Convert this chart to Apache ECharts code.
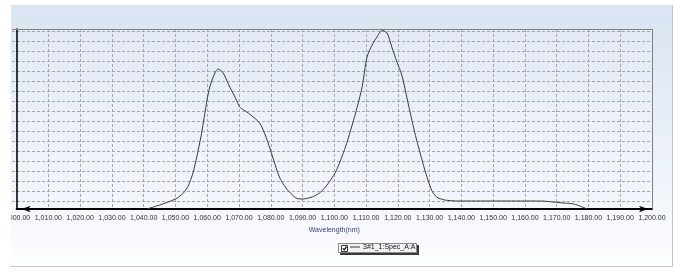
<!DOCTYPE html>
<html>
<head>
<meta charset="utf-8">
<script src="https://cdn.jsdelivr.net/npm/echarts@6/dist/echarts.min.js"></script>
<style>
html,body{margin:0;padding:0;background:#fff;}
#main{width:681px;height:279px;}
</style>
</head>
<body>
<div id="main"></div>
<script>
// Wavelength (nm) and signal values
const wavelengths = [1041, 1045, 1050, 1052.5, 1054, 1055.5, 1056.7, 1058, 1058.75, 1060, 1060.8, 1062.4, 1063.4, 1065, 1067.1, 1069.2, 1070.2, 1071.5, 1073.3, 1076.5, 1078.5, 1080.6, 1082.7, 1084.8, 1087.9, 1090, 1093, 1095.2, 1097.3, 1100.4, 1103.5, 1106.7, 1108.75, 1110.3, 1111.9, 1113.4, 1115, 1116.6, 1118.1, 1119.7, 1121.25, 1122.8, 1124.4, 1125.9, 1126.5, 1128.5, 1130.6, 1132.2, 1134.8, 1139, 1146, 1157, 1165, 1171, 1175.4, 1179.6];
const signal = [0, 0.04, 0.10, 0.16, 0.23, 0.36, 0.52, 0.72, 0.86, 1.10, 1.22, 1.36, 1.40, 1.36, 1.22, 1.09, 1.02, 0.99, 0.95, 0.86, 0.72, 0.52, 0.32, 0.21, 0.11, 0.10, 0.12, 0.157, 0.223, 0.37, 0.62, 0.96, 1.22, 1.52, 1.64, 1.72, 1.785, 1.76, 1.62, 1.47, 1.34, 1.12, 0.89, 0.69, 0.62, 0.39, 0.19, 0.12, 0.09, 0.08, 0.08, 0.08, 0.08, 0.063, 0.05, 0];
const seriesName = '3#1_1:Spec_A:A';
const xName = 'Wavelength(nm)';

const chart = echarts.init(document.getElementById('main'), null, {renderer: 'canvas'});
const fontFam = '"Liberation Sans", Arial, sans-serif';

function fmt(v) {
  return v.toLocaleString('en-US', {minimumFractionDigits: 2, maximumFractionDigits: 2});
}

const option = {
  backgroundColor: '#ffffff',
  animation: false,
  graphic: [
    { type: 'rect', z: -10, silent: true,
      shape: {x: 11, y: 5, width: 661, height: 261},
      style: {fill: new echarts.graphic.LinearGradient(0, 0, 0, 1, [
        {offset: 0, color: '#dae4f2'}, {offset: 0.1, color: '#dde6f3'}, {offset: 0.9, color: '#f8fafd'}, {offset: 1, color: '#fdfeff'}])}},
    { type: 'line', z: -9, silent: true, shape: {x1: 11, y1: 266.5, x2: 673, y2: 266.5}, style: {stroke: '#c4c4c4', lineWidth: 1}},
    { type: 'line', z: -9, silent: true, shape: {x1: 672.5, y1: 5, x2: 672.5, y2: 266}, style: {stroke: '#c4c4c4', lineWidth: 1}},
    { type: 'rect', z: -8, silent: true,
      shape: {x: 12, y: 29, width: 640, height: 180},
      style: {fill: new echarts.graphic.LinearGradient(0, 0, 0, 1, [
        {offset: 0, color: '#e3eaf6'}, {offset: 1, color: '#f3f6fb'}])}},
    { type: 'line', z: 1, silent: true, shape: {x1: 12, y1: 29.5, x2: 653, y2: 29.5}, style: {stroke: '#808080', lineWidth: 1}},
    { type: 'line', z: 1, silent: true, shape: {x1: 652.5, y1: 29, x2: 652.5, y2: 209}, style: {stroke: '#808080', lineWidth: 1}},
    // white margin left of the panel clips the first tick label
    { type: 'rect', z: 100, silent: true, shape: {x: 0, y: 212, width: 11, height: 20}, style: {fill: '#ffffff'}},
    // legend frame
    { type: 'rect', z: 1, silent: true, shape: {x: 340, y: 245, width: 79, height: 10}, style: {fill: '#3a3a3a'}},
    { type: 'rect', z: 2, silent: true, shape: {x: 338.5, y: 243.5, width: 78, height: 9}, style: {fill: '#f2f2f2', stroke: '#8a8a8a', lineWidth: 1}},
    { type: 'rect', z: 3, silent: true, shape: {x: 341.5, y: 245.5, width: 6, height: 6}, style: {fill: '#ffffff', stroke: '#333333', lineWidth: 1}},
    { type: 'polyline', z: 4, silent: true, shape: {points: [[342.8, 248.3], [344.2, 249.8], [346.5, 246.6]]}, style: {stroke: '#000000', lineWidth: 1.2, fill: null}}
  ],
  legend: {
    show: true,
    data: [seriesName],
    left: 350,
    top: 243.5,
    padding: 0,
    itemWidth: 10,
    itemHeight: 1,
    icon: 'rect',
    z: 5,
    selectedMode: false,
    textStyle: {fontSize: 7, color: '#111', fontFamily: fontFam, padding: [0, 0, 0, -2]}
  },
  grid: [
    {left: 12, top: 29, width: 640, height: 180, show: false},
    {left: 12, top: 31, width: 640, height: 170, show: false}
  ],
  xAxis: [
    {
      gridIndex: 0, type: 'value', min: 1000, max: 1200, interval: 10,
      name: xName, nameLocation: 'middle', nameGap: 15,
      nameTextStyle: {fontSize: 7, color: '#3b3b8c', fontFamily: fontFam},
      axisLine: {show: true, onZero: false, symbol: ['arrow', 'arrow'], symbolSize: [5, 9],
        symbolOffset: [5, -4],
        lineStyle: {color: '#000', width: 2}},
      axisTick: {show: false},
      axisLabel: {fontSize: 7, color: '#333', margin: 6, fontFamily: fontFam,
        showMinLabel: true, showMaxLabel: true, formatter: fmt},
      splitLine: {show: true, lineStyle: {color: '#a6a6a6', width: 1, type: [3, 2]}}
    },
    {gridIndex: 1, type: 'value', min: 0, max: 1, show: false}
  ],
  yAxis: [
    {
      gridIndex: 0, type: 'value', min: 0, max: 1.8,
      axisLine: {show: true, onZero: false, lineStyle: {color: '#000', width: 1.5}},
      axisTick: {show: false}, axisLabel: {show: false}, splitLine: {show: false}
    },
    {
      gridIndex: 1, type: 'value', min: 0, max: 17, interval: 1,
      axisLine: {show: false}, axisTick: {show: false}, axisLabel: {show: false},
      splitLine: {show: true, lineStyle: {color: '#a6a6a6', width: 1, type: [3, 2]}}
    }
  ],
  series: [
    {
      name: seriesName,
      type: 'line',
      xAxisIndex: 0, yAxisIndex: 0,
      data: wavelengths.map((w, i) => [w, signal[i]]),
      showSymbol: false, symbol: 'none',
      smooth: 0.25,
      z: 3,
      lineStyle: {color: '#3a3a3a', width: 1},
      itemStyle: {color: '#3a3a3a'}
    }
  ]
};
chart.setOption(option);
</script>
</body>
</html>
